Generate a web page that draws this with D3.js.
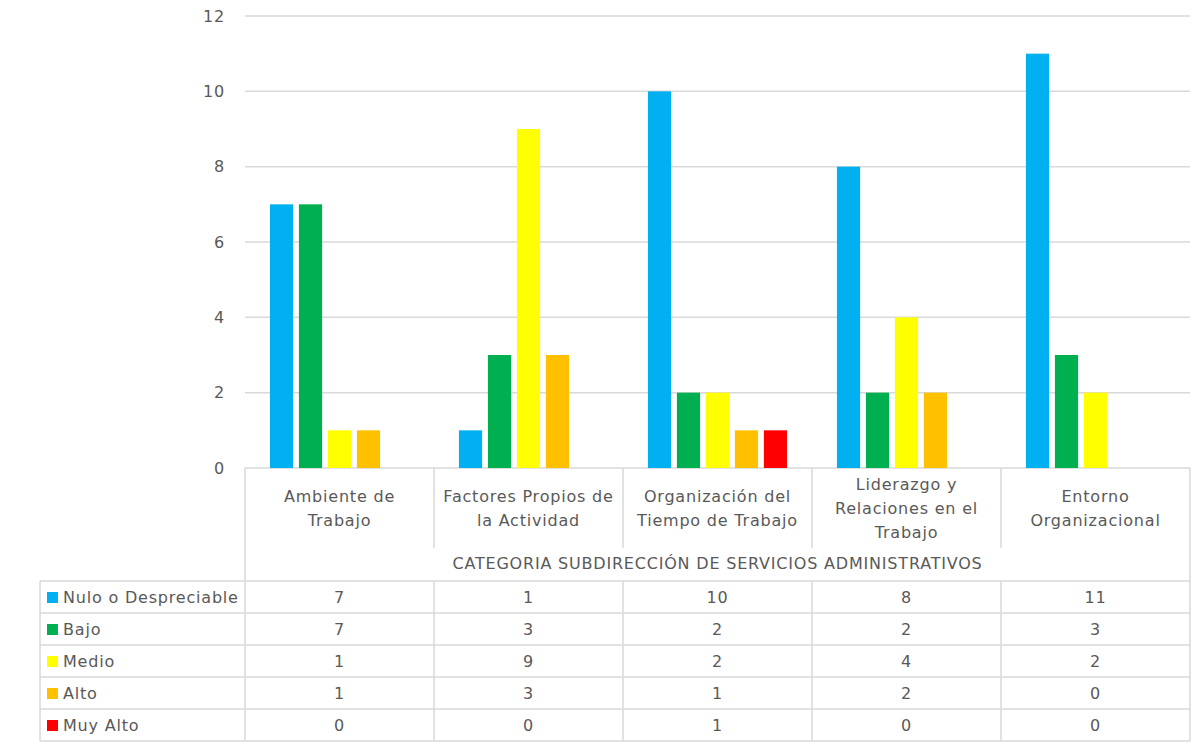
<!DOCTYPE html>
<html>
<head>
<meta charset="utf-8">
<script src="https://cdn.jsdelivr.net/npm/d3@7"></script>
<style>
  body { margin: 0; background: #fff; }
  svg text { font-family: "DejaVu Sans", "Open Sans", sans-serif; fill: #595959; letter-spacing: 0.8px; }
</style>
</head>
<body>
<svg id="chart" width="1191" height="750"></svg>
<script>
// data
var categories = [
  ["Ambiente de", "Trabajo"],
  ["Factores Propios de", "la Actividad"],
  ["Organización del", "Tiempo de Trabajo"],
  ["Liderazgo y", "Relaciones en el", "Trabajo"],
  ["Entorno", "Organizacional"]
];
var seriesNames = ["Nulo o Despreciable", "Bajo", "Medio", "Alto", "Muy Alto"];
var seriesColors = ["#00B0F0", "#00B050", "#FFFF00", "#FFC000", "#FF0000"];
var nulo = [7, 1, 10, 8, 11];
var bajo = [7, 3, 2, 2, 3];
var medio = [1, 9, 2, 4, 2];
var alto = [1, 3, 1, 2, 0];
var muyAlto = [0, 0, 1, 0, 0];
var yTicks = [0, 2, 4, 6, 8, 10, 12];
var groupTitle = "CATEGORIA SUBDIRECCIÓN DE SERVICIOS ADMINISTRATIVOS";

var values = [nulo, bajo, medio, alto, muyAlto];

var svg = d3.select("#chart");
var plotLeft = 245, plotRight = 1190, plotTop = 16, plotBottom = 468;
var gridColor = "#D9D9D9";
var fs = "16px";

var catIdx = categories.map(function(d, i) { return i; });
var x0 = d3.scaleBand().domain(catIdx).range([plotLeft, plotRight]);
var x1 = d3.scaleBand().domain(seriesNames).range([0, x0.bandwidth()])
  .paddingInner(0.2).paddingOuter(0.86);
var y = d3.scaleLinear().domain([0, 12]).range([plotBottom, plotTop]);

// gridlines
svg.append("g").selectAll("line")
  .data(yTicks)
  .enter().append("line")
    .attr("x1", plotLeft).attr("x2", plotRight)
    .attr("y1", function(d) { return y(d); })
    .attr("y2", function(d) { return y(d); })
    .attr("stroke", gridColor).attr("stroke-width", 1.5);

// y axis labels
svg.append("g").selectAll("text")
  .data(yTicks)
  .enter().append("text")
    .attr("x", 225)
    .attr("y", function(d) { return y(d); })
    .attr("dy", "0.35em")
    .attr("text-anchor", "end")
    .style("font-size", fs)
    .text(function(d) { return d; });

// bars
var groups = svg.append("g").selectAll("g")
  .data(catIdx)
  .enter().append("g")
    .attr("transform", function(i) { return "translate(" + x0(i) + ",0)"; });

groups.selectAll("rect")
  .data(function(i) {
    return seriesNames.map(function(s, k) { return { s: s, k: k, v: values[k][i] }; });
  })
  .enter().filter(function(d) { return d.v > 0; }).append("rect")
    .attr("x", function(d) { return x1(d.s); })
    .attr("y", function(d) { return y(d.v); })
    .attr("width", x1.bandwidth())
    .attr("height", function(d) { return y(0) - y(d.v); })
    .attr("fill", function(d) { return seriesColors[d.k]; });

// data table
var tableLeft = 40, catRowBottom = 548, headBottom = 581, rowH = 32;
var rowY = function(r) { return headBottom + r * rowH; };
var tableBottom = rowY(seriesNames.length);
var grid = svg.append("g").attr("stroke", gridColor).attr("stroke-width", 1.5);

// category separators
grid.selectAll("line.sep")
  .data(catIdx.concat([categories.length]))
  .enter().append("line")
    .attr("x1", function(i) { return i < categories.length ? x0(i) : plotRight; })
    .attr("x2", function(i) { return i < categories.length ? x0(i) : plotRight; })
    .attr("y1", plotBottom)
    .attr("y2", function(i) { return (i === 0 || i === categories.length) ? tableBottom : catRowBottom; });

// inner column lines for the value rows
grid.selectAll("line.col")
  .data(catIdx.slice(1))
  .enter().append("line")
    .attr("x1", function(i) { return x0(i); })
    .attr("x2", function(i) { return x0(i); })
    .attr("y1", headBottom).attr("y2", tableBottom);

grid.append("line").attr("x1", tableLeft).attr("x2", tableLeft)
  .attr("y1", headBottom).attr("y2", tableBottom);

// horizontal rules
grid.selectAll("line.row")
  .data(d3.range(seriesNames.length + 1))
  .enter().append("line")
    .attr("x1", tableLeft).attr("x2", plotRight)
    .attr("y1", function(r) { return rowY(r); })
    .attr("y2", function(r) { return rowY(r); });

// category labels
svg.append("g").selectAll("text")
  .data(categories)
  .enter().append("text")
    .attr("text-anchor", "middle")
    .style("font-size", fs)
    .attr("transform", function(d, i) {
      var cy = 508 - (d.length - 1) * 12;
      return "translate(" + (x0(i) + x0.bandwidth() / 2) + "," + cy + ")";
    })
    .each(function(d) {
      var t = d3.select(this);
      d.forEach(function(line, j) {
        t.append("tspan").attr("x", 0).attr("y", j * 24).attr("dy", "0.35em").text(line);
      });
    });

svg.append("text")
  .attr("x", (plotLeft + plotRight) / 2).attr("y", 563).attr("dy", "0.35em")
  .attr("text-anchor", "middle")
  .style("font-size", fs)
  .text(groupTitle);

// legend keys + row labels
var rows = svg.append("g").selectAll("g")
  .data(seriesNames)
  .enter().append("g")
    .attr("transform", function(d, r) { return "translate(0," + (rowY(r) + rowH / 2) + ")"; });

rows.append("rect")
  .attr("x", 47).attr("y", -5).attr("width", 11).attr("height", 11)
  .attr("fill", function(d, r) { return seriesColors[r]; });

rows.append("text")
  .attr("x", 63).attr("dy", "0.35em")
  .style("font-size", fs)
  .text(function(d) { return d; });

rows.selectAll("text.val")
  .data(function(d, r) { return values[r]; })
  .enter().append("text")
    .attr("x", function(v, i) { return x0(i) + x0.bandwidth() / 2; })
    .attr("dy", "0.35em")
    .attr("text-anchor", "middle")
    .style("font-size", fs)
    .text(function(v) { return v; });
</script>
</body>
</html>
